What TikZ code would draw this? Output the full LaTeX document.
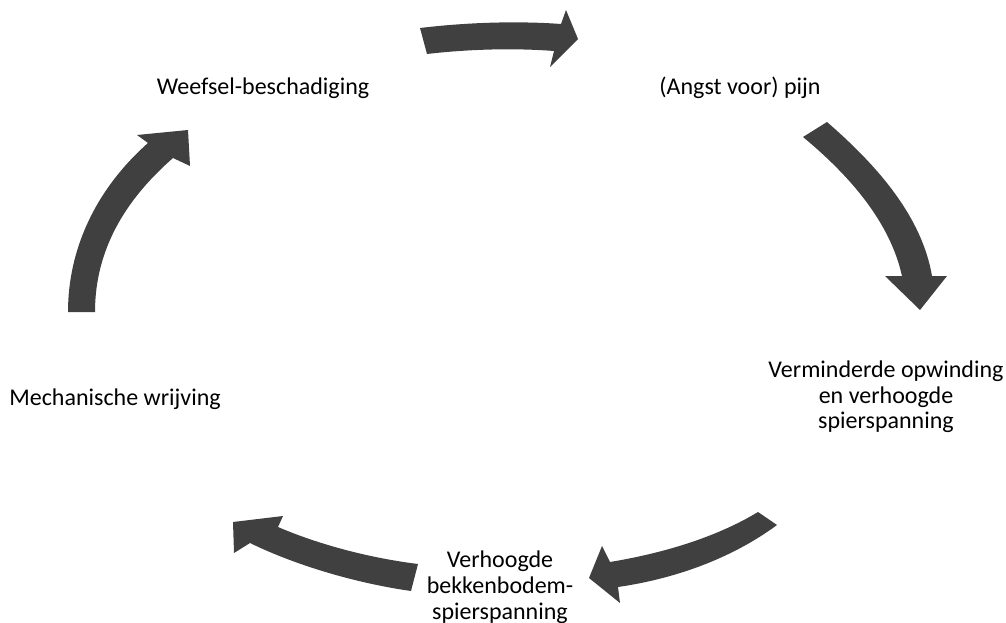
\documentclass[tikz,border=0pt]{standalone}
\usepackage{fontspec}
\setmainfont{Carlito}
\definecolor{arrowgray}{HTML}{404040}
\begin{document}
\begin{tikzpicture}[x=1pt,y=-1pt,
  lbl/.style={inner sep=0pt, align=center, font=\fontsize{24}{25.5}\selectfont, text=black},
  blockarrow/.style={fill=arrowgray, draw=none}]
\useasboundingbox (0,0) rectangle (1006,623);

% labels
\node[lbl, anchor=base] (n1) at (263,95) {Weefsel-beschadiging};
\node[lbl, anchor=base] (n2) at (740,95) {(Angst voor) pijn};
\node[lbl] (n3) at (886,397) {Verminderde opwinding\\en verhoogde\\spierspanning};
\node[lbl, font=\fontsize{24}{26}\selectfont] (n4) at (500,587) {Verhoogde\\bekkenbodem-\\spierspanning};
\node[lbl, anchor=base] (n5) at (115,405) {Mechanische wrijving};

% arrow 1 (top)
\fill[blockarrow] (420,28) .. controls (470,22) and (520,21) .. (561,24)
  -- (566,10) -- (578,39) -- (550,67) -- (554,51)
  .. controls (515,48) and (470,49) .. (427,54) -- cycle;
% arrow 2 (right)
\fill[blockarrow] (827,122) .. controls (880,168) and (922,218) .. (932,276)
  -- (947,276) -- (920,310) -- (885,276) -- (902,276)
  .. controls (890,222) and (850,176) .. (803,137) -- cycle;
% arrow 3 (bottom right)
\fill[blockarrow] (758,512) .. controls (720,535) and (670,552) .. (610,562)
  -- (602,546) -- (589,578) -- (620,603) -- (618,587)
  .. controls (680,578) and (735,556) .. (777,525) -- cycle;
% arrow 4 (bottom left)
\fill[blockarrow] (418,564) .. controls (370,558) and (320,545) .. (278,527)
  -- (283,516) -- (233,522) -- (234,553) -- (250,543)
  .. controls (295,565) and (355,583) .. (411,591) -- cycle;
% arrow 5 (left)
\fill[blockarrow] (68,312) .. controls (68,250) and (95,190) .. (148,143)
  -- (137,135) -- (188,130) -- (190,166) -- (173,158)
  .. controls (125,200) and (95,250) .. (95,312) -- cycle;
\end{tikzpicture}
\end{document}
